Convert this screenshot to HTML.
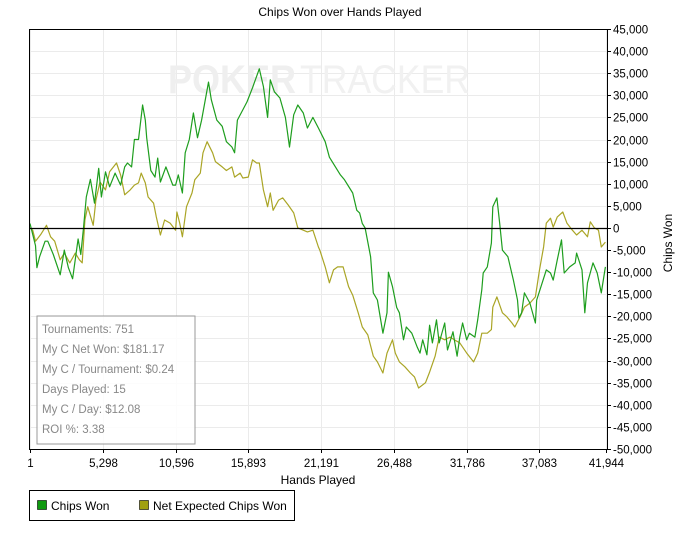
<!DOCTYPE html>
<html><head><meta charset="utf-8"><style>
body{margin:0;background:#fff;}
svg{display:block;font-family:"Liberation Sans",sans-serif;}
</style></head><body>
<svg id="chart" width="686" height="535" viewBox="0 0 686 535" xmlns="http://www.w3.org/2000/svg">
<rect x="0" y="0" width="686" height="535" fill="#fff"/>
<text x="340" y="16" font-size="12" text-anchor="middle" fill="#000">Chips Won over Hands Played</text>
<g id="grid"></g>
<g>
<text x="168" y="93" font-size="40" font-weight="bold" fill="#efefef" textLength="128" lengthAdjust="spacingAndGlyphs">POKER</text>
<text x="300" y="93" font-size="40" fill="#f1f1f1" textLength="170" lengthAdjust="spacingAndGlyphs">TRACKER</text>
</g>
<g id="series"></g>
<g id="axes"></g>
<g>
<rect x="37" y="316" width="158" height="128" fill="#fff" fill-opacity="0.85" stroke="#999" stroke-width="1"/>
<g font-size="11.5" fill="#888">
<text x="42" y="333">Tournaments: 751</text>
<text x="42" y="353">My C Net Won: $181.17</text>
<text x="42" y="373">My C / Tournament: $0.24</text>
<text x="42" y="393">Days Played: 15</text>
<text x="42" y="413">My C / Day: $12.08</text>
<text x="42" y="433">ROI %: 3.38</text>
</g>
</g>
<text x="318" y="484" font-size="12" text-anchor="middle" fill="#000">Hands Played</text>
<text transform="translate(672,243) rotate(-90)" font-size="12" text-anchor="middle" fill="#000">Chips Won</text>
<g>
<rect x="29.5" y="490.5" width="265" height="30" fill="#fff" stroke="#000" stroke-width="1"/>
<g>
<rect x="37.5" y="500.5" width="9" height="9" fill="#109a10" stroke="#000" stroke-width="0.6"/>
<text x="51" y="510" font-size="12" fill="#000">Chips Won</text>
</g>
<g>
<rect x="139.5" y="500.5" width="9" height="9" fill="#a0a010" stroke="#000" stroke-width="0.6"/>
<text x="153" y="510" font-size="12" fill="#000">Net Expected Chips Won</text>
</g>
</g>
</svg>
<script>
const xTicks=[1,5298,10596,15893,21191,26488,31786,37083,41944];
const xTickLabels=["1","5,298","10,596","15,893","21,191","26,488","31,786","37,083","41,944"];
const yTicks=[45000,40000,35000,30000,25000,20000,15000,10000,5000,0,-5000,-10000,-15000,-20000,-25000,-30000,-35000,-40000,-45000,-50000];
const yTickLabels=["45,000","40,000","35,000","30,000","25,000","20,000","15,000","10,000","5,000","0","-5,000","-10,000","-15,000","-20,000","-25,000","-30,000","-35,000","-40,000","-45,000","-50,000"];
const wonHandsK=[0,0.4,0.5,0.7,1.1,1.3,1.7,2.2,2.5,2.8,3.1,3.5,3.7,3.9,4.1,4.4,4.7,5.0,5.2,5.5,5.8,6.2,6.6,6.9,7.1,7.4,7.6,7.9,8.2,8.4,8.5,8.8,9.1,9.3,9.5,9.9,10.4,10.6,10.8,11.1,11.3,11.6,11.9,12.2,12.5,13.0,13.2,13.6,14.0,14.3,14.7,14.9,15.1,15.5,15.8,16.2,16.7,17.0,17.3,17.5,17.8,18.2,18.6,18.9,19.2,19.5,19.9,20.2,20.6,21.0,21.5,21.8,22.2,22.6,22.9,23.5,23.8,24.0,24.2,24.4,24.8,25.0,25.3,25.7,26.0,26.1,26.4,26.7,26.9,27.2,27.4,27.8,28.2,28.4,28.6,28.9,29.1,29.3,29.6,29.8,30.2,30.4,30.8,31.1,31.3,31.5,31.8,32.0,32.4,32.6,32.9,33.0,33.3,33.6,33.7,34.0,34.2,34.4,34.8,35.2,35.5,35.6,35.8,36.0,36.4,36.8,36.9,37.3,37.6,37.9,38.1,38.4,38.7,38.9,39.3,39.7,39.8,40.2,40.4,40.6,41.0,41.3,41.6,41.9];
const wonK=[1,-4,-9,-6.5,-3,-3,-6,-10.6,-5,-9,-11.5,-2.5,-6,0,7,11,5.6,13.5,7,12.7,9.3,12.4,9.7,13.8,14.7,13.8,20,20,27.8,24.4,20.4,13,11.5,15.8,10.4,13.8,9.7,9.7,12,7.9,17,20,26,20.4,24.4,33,29,24.4,23,19.5,18.3,17,24.4,26.7,28.5,31.7,36,32,25,33.5,30.8,29.4,25,18.3,25.6,27.8,26,22.6,25,22.6,19.5,16,14,12,10.9,7.9,4,3.4,1,0,-6.5,-14.7,-16.3,-23.8,-19.2,-10,-13.3,-18,-19.2,-25.3,-22.4,-23.8,-27,-28.3,-25.3,-28.7,-22,-26,-20.8,-26,-21.5,-27.6,-23.5,-29,-24.7,-21.5,-25.3,-23.8,-24.7,-20.8,-14,-10.2,-8.8,-3.4,4.8,6.8,1,-5,-6.5,-11.8,-16.3,-20.4,-19.2,-14.7,-17,-21.5,-16.3,-12.4,-9.5,-10.2,-11.8,-7.2,-2.7,-10.2,-8.8,-7.9,-5.7,-9.5,-19.2,-12.4,-7.9,-10.2,-14.7,-8.8];
const expHandsK=[0,0.2,0.4,0.8,1.2,1.5,1.8,2.2,2.5,2.9,3.3,3.6,3.8,4.0,4.2,4.6,4.8,5.1,5.5,5.8,6.3,6.6,6.9,7.3,7.6,7.9,8.1,8.4,8.6,9.0,9.2,9.5,9.8,10.2,10.6,10.7,10.9,11.1,11.4,11.8,12.0,12.4,12.6,12.9,13.3,13.5,14.0,14.3,14.7,14.9,15.3,15.5,15.9,16.2,16.5,16.7,17.0,17.3,17.5,17.7,18.1,18.4,18.8,19.2,19.5,19.9,20.2,20.6,21.0,21.1,21.5,21.8,22.1,22.4,22.8,23.2,23.5,23.9,24.2,24.6,25.0,25.3,25.7,26.0,26.4,26.6,26.9,27.3,27.7,28.0,28.3,28.8,29.1,29.5,29.8,30.2,30.6,30.9,31.3,31.8,32.3,32.6,32.9,33.3,33.6,33.7,34.0,34.4,34.7,35.1,35.3,35.7,36.0,36.4,36.8,37.1,37.4,37.6,37.9,38.1,38.4,38.8,39.1,39.5,39.8,40.2,40.6,40.8,41.1,41.4,41.6,41.9];
const expK=[0,-0.5,-3,-1.4,0.6,-2,-3,-7.2,-5.7,-7.9,-5.7,-7.2,-7.9,1.8,4.8,0.6,6.3,10.4,8.6,12.7,14.7,12,7.5,8.6,9.7,10.2,12.4,10.2,7,5.6,2.5,-1.6,1.8,1.1,-0.5,3.6,1.1,-2,4.8,7.9,10.9,12.4,17,19.5,17,15,13.8,13,13.8,11.5,12.4,11.3,11.5,15.4,14.7,14.7,8.6,4.8,7.9,4,6.3,6.8,5.2,3.4,0,-0.5,-0.9,-0.5,-4.3,-5,-8.8,-12.4,-9.5,-8.8,-8.8,-13.3,-15.2,-19.2,-22.4,-24.2,-29,-30.3,-32.8,-28.3,-25.3,-28.3,-30.3,-31.4,-32.8,-33.7,-36.2,-35,-32.6,-29,-24.7,-25.3,-24.7,-25.3,-26,-28.3,-30.3,-28.3,-23.8,-23.8,-23,-17.9,-15.6,-19.2,-20,-21.5,-22.4,-20,-17.9,-17,-15.6,-9.5,-4.3,1.1,2.2,0.2,2.5,3.6,1.1,-0.5,-1.6,-0.5,-2,1.4,0,-0.5,-4.3,-3.2];

const X0=30,X1=606,Y0=29,Y1=449,XMIN=1,XMAX=41944,YMIN=-50000,YMAX=45000;
function sx(h){return X0+(h-XMIN)/(XMAX-XMIN)*(X1-X0);}
function sy(v){return Y1-(v-YMIN)/(YMAX-YMIN)*(Y1-Y0);}
const NS="http://www.w3.org/2000/svg";
function mk(tag,attrs,parent){const e=document.createElementNS(NS,tag);for(const k in attrs)e.setAttribute(k,attrs[k]);parent.appendChild(e);return e;}
const grid=document.getElementById('grid'),axes=document.getElementById('axes'),series=document.getElementById('series');
yTicks.forEach((v,i)=>{
  const y=Math.round(sy(v))+0.5;
  const gl=mk('line',{x1:29,x2:607,y1:y,y2:y,stroke:'#ebebeb','stroke-width':1},grid);
  
  
  const t=mk('line',{x1:607,x2:611,y1:y,y2:y,stroke:'#000','stroke-width':1},axes);
  
  
  const lb=mk('text',{x:613,y:y+4,'font-size':11.5,fill:'#000'},axes);
  lb.textContent=yTickLabels[i];
  
  
});
xTicks.forEach((h,i)=>{
  const x=Math.round(sx(h))+0.5;
  const gl=mk('line',{x1:x,x2:x,y1:29,y2:449,stroke:'#ebebeb','stroke-width':1},grid);
  
  
  const t=mk('line',{x1:x,x2:x,y1:449,y2:453,stroke:'#000','stroke-width':1},axes);
  
  
  const lb=mk('text',{x:x,y:467,'font-size':11.5,'text-anchor':'middle',fill:'#000'},axes);
  lb.textContent=xTickLabels[i];
  
  
});
const frame=mk('path',{d:'M29.5,449.5 V29.5 H607.5',fill:'none',stroke:'#000','stroke-width':1},axes);


const xa=mk('line',{x1:29,x2:608,y1:449.5,y2:449.5,stroke:'#000','stroke-width':1},axes);


const ya=mk('line',{x1:607.5,x2:607.5,y1:29,y2:450,stroke:'#000','stroke-width':1},axes);


function line(hk,vk,color,name){
  const d=hk.map((h,i)=>(i?'L':'M')+sx(h*1000).toFixed(1)+','+sy(vk[i]*1000).toFixed(1)).join(' ');
  const p=mk('path',{d:d,fill:'none',stroke:color,'stroke-width':1.2,'stroke-linejoin':'round'},series);
  
  
}
line(expHandsK,expK,'#aaa526','net-expected-chips-line');
line(wonHandsK,wonK,'#1e9e1e','chips-won-line');
const z=Math.round(sy(0))+0.5;
const zl=mk('line',{x1:29,x2:607,y1:z,y2:z,stroke:'#000','stroke-width':1.2},series);


</script>
</body></html>
